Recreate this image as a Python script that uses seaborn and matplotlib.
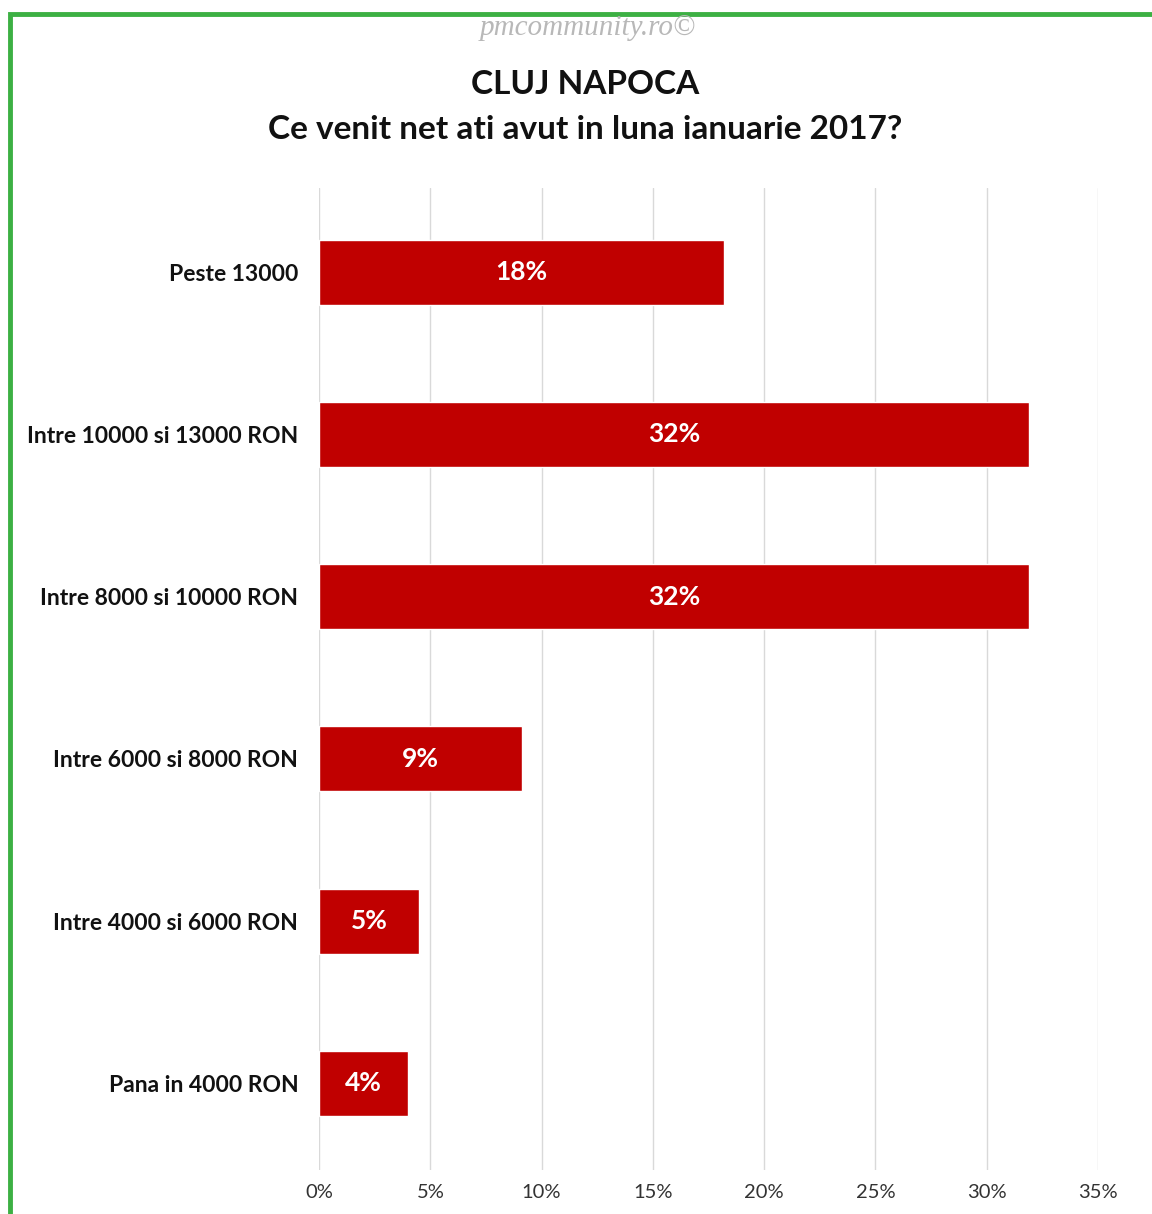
import pandas as pd
import matplotlib.pyplot as plt
import seaborn as sns
from matplotlib.patches import Rectangle

categories = ["Peste 13000", "Intre 10000 si 13000 RON", "Intre 8000 si 10000 RON",
              "Intre 6000 si 8000 RON", "Intre 4000 si 6000 RON", "Pana in 4000 RON"]
values = [18.2, 31.9, 31.9, 9.1, 4.5, 4.0]
bar_labels = ["18%", "32%", "32%", "9%", "5%", "4%"]
xticks = [0, 5, 10, 15, 20, 25, 30, 35]

df = pd.DataFrame({"cat": categories, "val": values})

sns.set_style("white")
plt.rcParams['font.family'] = ['Lato', 'DejaVu Sans']

fig = plt.figure(figsize=(11.52, 12.14), dpi=100)
ax = fig.add_axes([0.277, 0.036, 0.676, 0.809])

sns.barplot(data=df, x="val", y="cat", color="#C00000", width=0.40,
            saturation=1, ax=ax, zorder=3)

for i, (v, lab) in enumerate(zip(values, bar_labels)):
    ax.text(v / 2, i, lab, color="white", fontsize=19, fontweight="bold",
            ha="center", va="center", zorder=4)

ax.set_xlim(0, 35)
ax.set_ylim(5.536, -0.517)
ax.set_xticks(xticks)
ax.set_xticklabels([f"{t}%" for t in xticks], fontsize=14.5, color="#333333")
ax.set_yticklabels(categories, fontsize=16.5, fontweight="bold", color="#111111")
ax.set_xlabel("")
ax.set_ylabel("")
ax.xaxis.grid(True, color="#d9d9d9", linewidth=1, zorder=0)
ax.tick_params(axis="x", length=0, pad=10)
ax.tick_params(axis="y", length=0, pad=15)
for s in ax.spines.values():
    s.set_visible(False)

fig.text(0.508, 0.930, "CLUJ NAPOCA", ha="center", va="center", fontsize=24,
         fontweight="bold", color="#111111")
fig.text(0.508, 0.893, "Ce venit net ati avut in luna ianuarie 2017?", ha="center",
         va="center", fontsize=24, fontweight="bold", color="#111111")
fig.text(0.51, 0.977, "pmcommunity.ro\u00a9", ha="center", va="center",
         fontsize=21, style="italic", family="Liberation Serif", color="#b8b8b8")

fig.patches.append(Rectangle((10 / 1152, -0.1), 1.2, 1 - 14 / 1214 + 0.1,
                             transform=fig.transFigure, fill=False,
                             edgecolor="#3cb043", linewidth=3.5))

fig.savefig("out.png", dpi=100)
